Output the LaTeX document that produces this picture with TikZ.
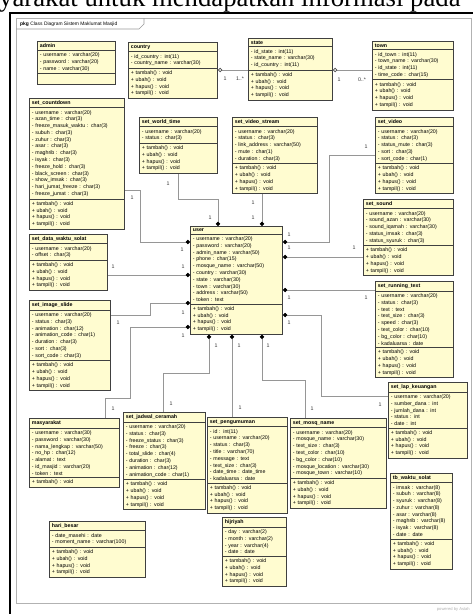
\documentclass[tikz,border=0pt]{standalone}
\usepackage{fontspec}
\setsansfont{Liberation Sans}
\newfontfamily\headfont{Liberation Serif}
\usetikzlibrary{shapes.multipart,arrows.meta}
\definecolor{classfill}{RGB}{255,252,208}
\definecolor{linkgray}{RGB}{150,150,150}
\newcommand\umlfont{\sffamily\fontsize{4.5}{5.8}\selectfont}
\newcommand\crudops{+ tambah() : void\\+ ubah() : void\\+ hapus() : void\\+ tampil() : void}
\tikzset{
  umlclass/.style={draw=black!75, line width=0.9pt, fill=classfill, rectangle split, rectangle split parts=3,
    anchor=north west, align=left, inner xsep=2pt, inner ysep=1.6pt, font=\umlfont, text width=#1},
  link/.style={draw=linkgray, line width=0.6pt},
  comp/.style={link, -{Circle[length=3.6pt, color=black, fill=black]}},
  agg/.style={link, {Circle[open, length=3.6pt, color=black!70, fill=white]}-},
  mult/.style={font=\umlfont, inner sep=0pt, text=black!80}
}

\begin{document}
\begin{tikzpicture}[x=0.03cm, y=-0.03cm]
				\useasboundingbox (0,0) rectangle (473,614);
				\clip (0,0) rectangle (473,614);
				\fill[white] (0,0) rectangle (473,614);
				
				% page heading and frame
				\node[anchor=base west, inner sep=0pt, font=\headfont\fontsize{22.8}{24}\selectfont] (heading) at (-1,6) {yarakat untuk mendapatkan informasi pada};
				\draw[line width=1.6pt] (10,614) -- (10,13) -- (473,13);
				\draw[black!30, line width=0.6pt] (16,18) rectangle (471,603);
				\draw[black!40, line width=0.5pt] (16,29) -- (139,29) -- (144,24) -- (144,18);
				\node[anchor=west, inner sep=0pt, font=\sffamily\fontsize{4.2}{5}\selectfont] (pkgtitle) at (20,24) {\textbf{pkg} Class Diagram Sistem Maklumat Masjid};
				\node[anchor=east, inner sep=0pt, text=black!30, font=\sffamily\fontsize{3.5}{4}\selectfont] (powered) at (470,609) {powered by Astah};
				
				% classes
				\node[umlclass=2.20cm] (admin) at (37,41) {\centering\textbf{admin}
					\nodepart{second}- username : varchar(20)\\- password : varchar(20)\\- name : varchar(30)
					\nodepart{third}\rule{0pt}{5pt}};
				\node[umlclass=2.53cm] (country) at (128,42) {\centering\textbf{country}
					\nodepart{second}- id\_country : int(11)\\- country\_name : varchar(30)
					\nodepart{third}\crudops};
				\node[umlclass=2.38cm] (state) at (248,38) {\centering\textbf{state}
					\nodepart{second}- id\_state : int(11)\\- state\_name : varchar(30)\\- id\_country : int(11)
					\nodepart{third}\crudops};
				\node[umlclass=2.29cm] (town) at (372,41) {\centering\textbf{town}
					\nodepart{second}- id\_town : int(11)\\- town\_name : varchar(30)\\- id\_state : int(11)\\- time\_code : char(15)
					\nodepart{third}\crudops};
				
				\node[umlclass=2.71cm] (countdown) at (29,98) {\centering\textbf{set\_countdown}
					\nodepart{second}- username : varchar(20)\\- azan\_time : char(3)\\- freeze\_masuk\_waktu : char(3)\\- subuh : char(3)\\- zuhur : char(3)\\- asar : char(3)\\- maghrib : char(3)\\- isyak : char(3)\\- freeze\_hold : char(3)\\- black\_screen : char(3)\\- show\_imsak : char(3)\\- hari\_jumat\_freeze : char(3)\\- freeze\_jumat : char(3)
					\nodepart{third}\crudops};
				\node[umlclass=2.20cm] (worldtime) at (139,117) {\centering\textbf{set\_world\_time}
					\nodepart{second}- username : varchar(20)\\- status : char(3)
					\nodepart{third}\crudops};
				\node[umlclass=2.41cm] (videostream) at (232,117) {\centering\textbf{set\_video\_stream}
					\nodepart{second}- username : varchar(20)\\- status : char(3)\\- link\_address : varchar(50)\\- mute : char(1)\\- duration : char(3)
					\nodepart{third}\crudops};
				\node[umlclass=2.20cm] (video) at (375,117) {\centering\textbf{set\_video}
					\nodepart{second}- username : varchar(20)\\- status : char(3)\\- status\_mute : char(3)\\- sort : char(3)\\- sort\_code : char(1)
					\nodepart{third}\crudops};
				\node[umlclass=2.56cm] (sound) at (363,199) {\centering\textbf{set\_sound}
					\nodepart{second}- username : varchar(20)\\- sound\_azan : varchar(30)\\- sound\_iqamah : varchar(30)\\- status\_imsak : char(3)\\- status\_syuruk : char(3)
					\nodepart{third}\crudops};
				
				\node[umlclass=2.62cm] (user) at (190,226) {\centering\textbf{user}
					\nodepart{second}- username : varchar(20)\\- password : varchar(20)\\- admin\_name : varchar(50)\\- phone : char(15)\\- mosque\_name : varchar(50)\\- country : varchar(30)\\- state : varchar(30)\\- town : varchar(30)\\- address : varchar(50)\\- token : text
					\nodepart{third}\crudops};
				
				\node[umlclass=2.20cm] (datawaktu) at (29,234) {\centering\textbf{set\_data\_waktu\_solat}
					\nodepart{second}- username : varchar(20)\\- offset : char(3)
					\nodepart{third}\crudops};
				\node[umlclass=2.29cm] (imageslide) at (29,300) {\centering\textbf{set\_image\_slide}
					\nodepart{second}- username : varchar(20)\\- status : char(3)\\- animation : char(12)\\- animation\_code : char(1)\\- duration : char(3)\\- sort : char(3)\\- sort\_code : char(3)
					\nodepart{third}\crudops};
				\node[umlclass=2.20cm] (runtext) at (375,281) {\centering\textbf{set\_running\_text}
					\nodepart{second}- username : varchar(20)\\- status : char(3)\\- text : text\\- text\_size : char(3)\\- speed : char(3)\\- text\_color : char(10)\\- bg\_color : char(10)\\- kadaluarsa : date
					\nodepart{third}\crudops};
				\node[umlclass=2.23cm] (lapkeu) at (388,382) {\centering\textbf{set\_lap\_keuangan}
					\nodepart{second}- username : varchar(20)\\- sumber\_dana : int\\- jumlah\_dana : int\\- status : int\\- date : int
					\nodepart{third}\crudops};
				
				\node[umlclass=2.56cm] (masyarakat) at (29,418) {\centering\textbf{masyarakat}
					\nodepart{second}- username : varchar(30)\\- password : varchar(30)\\- nama\_lengkap : varchar(50)\\- no\_hp : char(12)\\- alamat : text\\- id\_masjid : varchar(20)\\- token : text
					\nodepart{third}+ tambah() : void};
				\node[umlclass=2.32cm] (ceramah) at (123,412) {\centering\textbf{set\_jadwal\_ceramah}
					\nodepart{second}- username : varchar(20)\\- status : char(3)\\- freeze\_status : char(3)\\- freeze : char(3)\\- total\_slide : char(4)\\- duration : char(3)\\- animation : char(12)\\- animation\_code : char(1)
					\nodepart{third}\crudops};
				\node[umlclass=2.26cm] (pengumuman) at (207,417) {\centering\textbf{set\_pengumuman}
					\nodepart{second}- id : int(11)\\- username : varchar(20)\\- status : char(3)\\- title : varchar(70)\\- message : text\\- text\_size : char(3)\\- date\_time : date\_time\\- kadaluarsa : date
					\nodepart{third}\crudops};
				\node[umlclass=2.74cm] (mosqname) at (290,418) {\centering\textbf{set\_mosq\_name}
					\nodepart{second}- username : varchar(20)\\- mosque\_name : varchar(30)\\- text\_size : char(3)\\- text\_color : char(10)\\- bg\_color : char(10)\\- mosque\_location : varchar(30)\\- mosque\_town : varchar(10)
					\nodepart{third}\crudops};
				\node[umlclass=1.78cm] (hijriyah) at (222,517) {\centering\textbf{hijriyah}
					\nodepart{second}- day : varchar(2)\\- month : varchar(2)\\- year : varchar(4)\\- date : date
					\nodepart{third}\crudops};
				\node[umlclass=2.74cm] (haribesar) at (49,521) {\centering\textbf{hari\_besar}
					\nodepart{second}- date\_masehi : date\\- moment\_name : varchar(100)
					\nodepart{third}\crudops};
				\node[umlclass=1.72cm] (waktusolat) at (390,473) {\centering\textbf{tb\_waktu\_solat}
					\nodepart{second}- imsak : varchar(8)\\- subuh : varchar(8)\\- syuruk : varchar(8)\\- zuhur : varchar(8)\\- asar : varchar(8)\\- maghrib : varchar(8)\\- isyak : varchar(8)\\- date : date
					\nodepart{third}\crudops};
				
				% associations
				\draw[agg] (country.east |- 0,70) -- (state.west |- 0,70);
				\draw[agg] (state.east |- 0,70) -- (town.west |- 0,70);
				
				\draw[comp] (worldtime.south) |- (218,199) -- (user.north -| 218,0);
				\draw[comp] (videostream.south -| 262,0) -- (user.north -| 262,0);
				\draw[comp] (video.west |- 0,155) -| (329,242) -- (user.east |- 0,242);
				\draw[comp] (sound.west |- 0,257) -- (user.east |- 0,257);
				\draw[comp] (runtext.west |- 0,290) -- (user.east |- 0,290);
				\draw[comp] (lapkeu.west |- 0,396) -| (321,315) -- (user.east |- 0,315);
				\draw[comp] (countdown.east |- 0,190) -| (140,242) -- (user.west |- 0,242);
				\draw[comp] (datawaktu.east |- 0,275) -- (user.west |- 0,275);
				\draw[comp] (imageslide.east |- 0,315) -| (150,303) -- (user.west |- 0,303);
				\draw[comp] (masyarakat.north -| 105,0) |- (130,398) |- (user.west |- 0,327);
				\draw[comp] (ceramah.north -| 163,0) |- (209,373) -- (user.south -| 209,0);
				\draw[comp] (pengumuman.north -| 232,0) -- (user.south -| 232,0);
				\draw[comp] (mosqname.north -| 305,0) |- (262,380) -- (user.south -| 262,0);
				
				% multiplicities
				\foreach \n/\x/\y/\t in {1/225/79/1, 2/240/79/1..*, 3/339/80/1, 4/362/80/0..*,
					5/168/184/1, 6/210/218/1, 7/253/203/1, 8/253/218/1, 9/366/147/1, 10/289/235/1,
					11/354/248/1, 12/289/248/1, 13/289/298/1, 14/366/298/1, 15/289/323/1, 16/380/405/1,
					17/132/198/1, 18/182/250/1, 19/113/267/1, 20/183/267/1, 21/118/323/1, 22/183/313/1,
					23/183/336/1, 24/113/409/1, 25/216/346/1, 26/171/404/1, 27/239/346/1, 28/240/408/1,
					29/268/346/1, 30/312/409/1}
					\node[mult] (m\n) at (\x,\y) {\t};
\end{tikzpicture}
\end{document}
